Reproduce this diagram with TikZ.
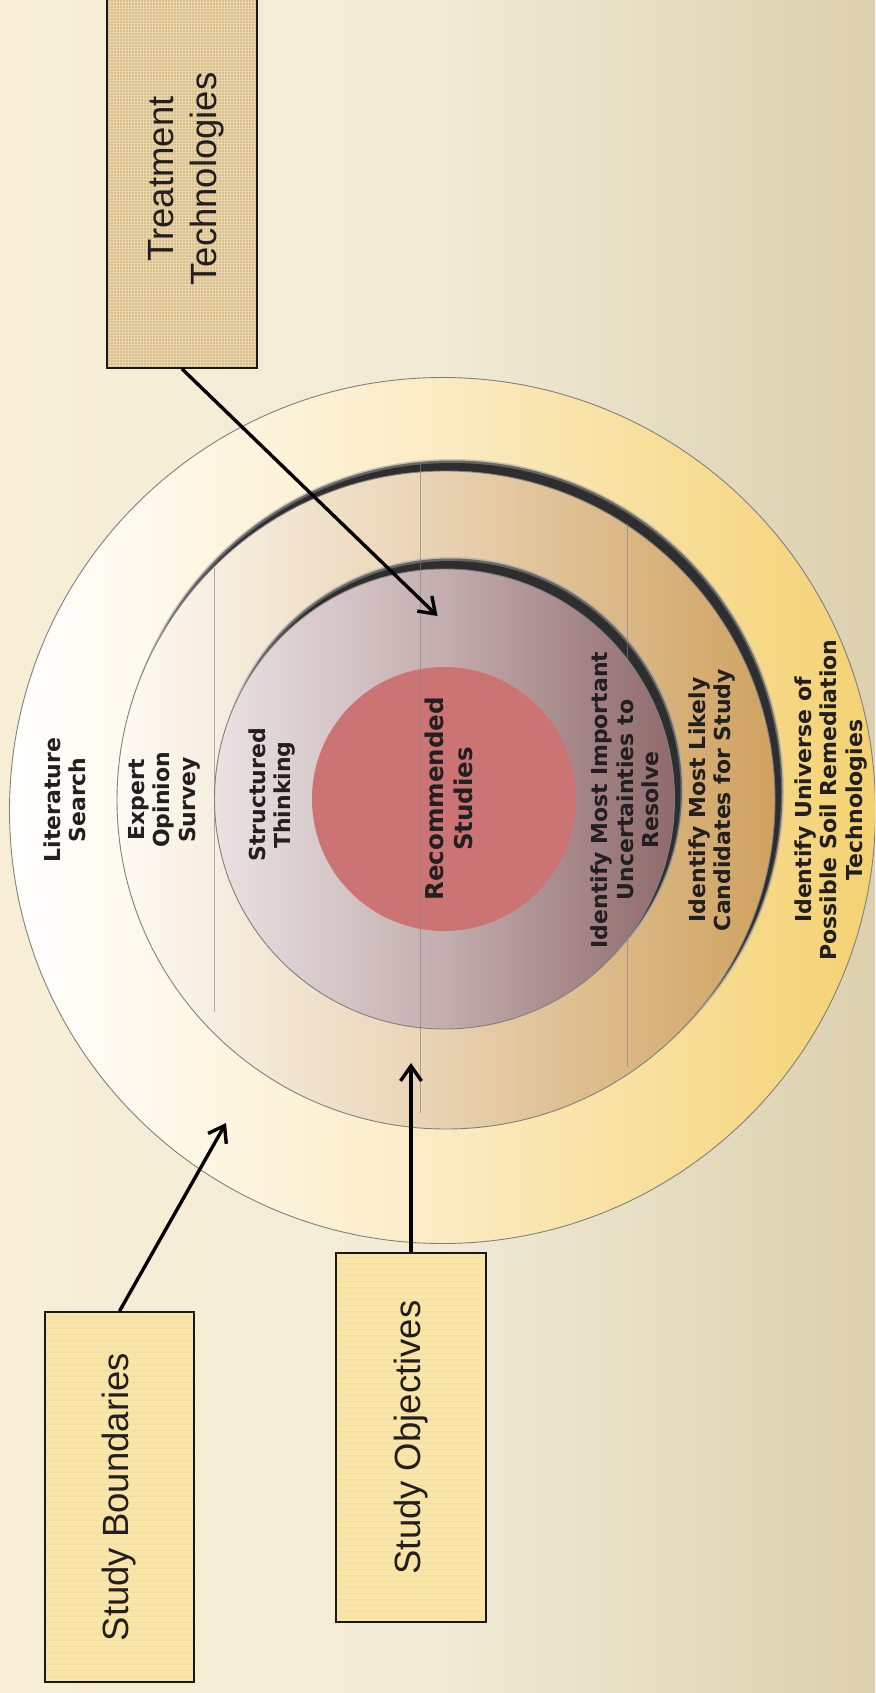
\documentclass[tikz,border=0pt]{standalone}
\usepackage{fontspec}
\newfontfamily\lblfont{DejaVu Sans}
\newfontfamily\boxfont{Liberation Sans}
\usetikzlibrary{arrows.meta,calc}
\definecolor{bgL}{HTML}{F8EED6}
\definecolor{bgM}{HTML}{F1EBD6}
\definecolor{bgR}{HTML}{DCD0AE}
\definecolor{ringAM}{HTML}{FBEBC2}
\definecolor{ringAR}{HTML}{F4D272}
\definecolor{ringBL}{HTML}{FDFAF4}
\definecolor{ringBM}{HTML}{E8D1B0}
\definecolor{ringBR}{HTML}{CFA260}
\definecolor{ringCL}{HTML}{EAE2E3}
\definecolor{ringCM}{HTML}{C3ADAE}
\definecolor{ringCR}{HTML}{8F6A6C}
\definecolor{core}{HTML}{CC7474}
\definecolor{ttfill}{HTML}{DCC28A}
\definecolor{sfill}{HTML}{F8E5AB}
\definecolor{txt}{HTML}{231F20}
\begin{document}
\begin{tikzpicture}[x=1pt,y=-1pt,
  ring/.style={draw=black!50, line width=0.9pt},
  lbl/.style={rotate=90, align=center, text=txt, inner sep=0pt,
    font=\lblfont\bfseries\fontsize{22}{25.4}\selectfont},
  boxnode/.style={draw=black!90, line width=1.8pt, inner sep=0pt, text=txt,
    font=\boxfont\fontsize{36.5}{43}\selectfont},
  arr/.style={line width=3.4pt, draw=black, -{Straight Barb[length=15pt,width=21pt,line width=3.4pt]}},
  faint/.style={draw=black!50, line width=0.7pt, opacity=0.6}]
\useasboundingbox (0,0) rectangle (875,1693);
\clip (0,0) rectangle (875,1693);
% background
\shade[left color=bgL, right color=bgR, middle color=bgM] (0,0) rectangle (875,1693);
% centres
\coordinate (cA) at (442.5,810.5);
\coordinate (cB) at (446,800);
\coordinate (cC) at (444.5,799);
\coordinate (cD) at (444,799);
% outer ring
\shadedraw[ring, left color=white, right color=ringAR, middle color=ringAM] (cA) circle (433);
% shadow of second ring
\fill[black!35, opacity=0.6] ($(cB)+(6,-9)$) circle (332);
\fill[black!60] ($(cB)+(6,-9)$) circle (330.5);
\fill[black!82] ($(cB)+(6,-8)$) circle (329);
\shadedraw[ring, left color=ringBL, right color=ringBR, middle color=ringBM] (cB) circle (329);
% shadow of third ring
\fill[black!35, opacity=0.6] ($(cC)+(6,-9)$) circle (233);
\fill[black!60] ($(cC)+(6,-9)$) circle (231.5);
\fill[black!82] ($(cC)+(6,-8)$) circle (230);
\shadedraw[ring, left color=ringCL, right color=ringCR, middle color=ringCM] (cC) circle (230);
% core
\fill[core] (cD) circle (132);
% faint vertical seams
\draw[faint] (214,568) -- (214,1012);
\draw[faint] (420,463) -- (420,1113);
\draw[faint] (627,523) -- (627,1067);
% ring labels
\node[lbl] (lit) at (65,800) {Literature\\Search};
\node[lbl] (exp) at (164,800) {Expert\\Opinion\\Survey};
\node[lbl] (str) at (272,795) {Structured\\Thinking};
\node[lbl, font=\lblfont\bfseries\fontsize{24.5}{29}\selectfont] (rec) at (449,799) {Recommended\\Studies};
\node[lbl] (imp) at (625,800) {Identify Most Important\\Uncertainties to\\Resolve};
\node[lbl] (cand) at (712,800) {Identify Most Likely\\Candidates for Study};
\node[lbl] (univ) at (831,800) {Identify Universe of\\Possible Soil Remediation\\Technologies};
% box fills with texture
\fill[ttfill] (107,-10) rectangle (257,368);
\begin{scope}
\clip (107,-10) rectangle (257,368);
\foreach \i in {0,3,...,150} \draw[white, opacity=0.28, line width=0.7pt] (107+\i,-10) -- (107+\i,368);
\foreach \j in {-10,-7,...,368} \draw[white, opacity=0.28, line width=0.7pt] (107,\j) -- (257,\j);
\end{scope}
\fill[sfill] (45,1312) rectangle (194,1682);
\fill[sfill] (336,1253) rectangle (486,1622);
\foreach \j in {1316,1322,...,1680} \draw[orange!40!yellow, opacity=0.18, line width=0.6pt] (45,\j) -- (194,\j);
\foreach \j in {1257,1263,...,1620} \draw[orange!40!yellow, opacity=0.18, line width=0.6pt] (336,\j) -- (486,\j);
% boxes
\node[boxnode, minimum width=150pt, minimum height=378pt] (tt) at (182,179)
  {\hspace{8pt}\rotatebox{90}{\begin{tabular}{@{}c@{}}Treatment\\Technologies\end{tabular}}};
\node[boxnode, minimum width=149pt, minimum height=370pt] (sb) at (119.5,1497)
  {\rotatebox{90}{Study Boundaries}};
\node[boxnode, minimum width=150pt, minimum height=369pt] (so) at (411,1437.5)
  {\rotatebox{90}{Study Objectives}};
% arrows
\coordinate (ttTip) at (437.5,616);
\coordinate (sbTip) at (226,1123);
\coordinate (soTip) at (411,1063);
\draw[arr] (tt.south) -- (ttTip);
\draw[arr] (sb.north) -- (sbTip);
\draw[arr] (so.north) -- (soTip);
\end{tikzpicture}
\end{document}
